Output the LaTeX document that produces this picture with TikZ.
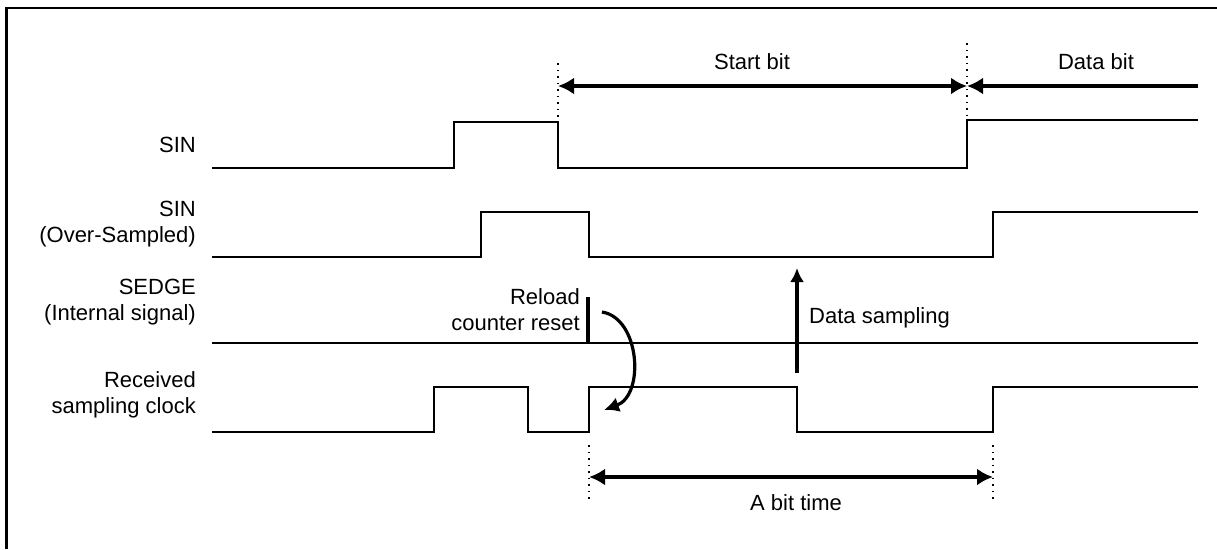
\documentclass[tikz,border=0pt]{standalone}
\usepackage{fontspec}
\setmainfont{Liberation Sans}
\usetikzlibrary{arrows.meta}
\tikzset{headtip/.tip={Latex[length=16pt,width=17pt]}}
\begin{document}
\begin{tikzpicture}[x=1pt,y=-1pt,
 sig/.style={line width=1.6pt, line join=miter},
 dim/.style={line width=3.2pt},
 guide/.style={line width=1.5pt, dash pattern=on 1.5pt off 5pt},
 lbl/.style={font=\fontsize{22}{26}\selectfont, inner sep=0pt},
 lblr/.style={lbl, align=right, anchor=east}
]
\useasboundingbox (0,0) rectangle (1217,549);
\fill[white] (0,0) rectangle (1217,549);
\draw[line width=2.5pt] (6.5,549) -- (6.5,8) -- (1217,8);

% signal labels
\node[lblr] (sin) at (196,145) {SIN};
\node[lblr] (sino) at (196,224) {SIN\\(Over-Sampled)};
\node[lblr] (sedge) at (196,302) {SEDGE\\(Internal signal)};
\node[lblr] (rclk) at (196,395) {Received\\sampling clock};

% waveforms
\draw[sig] (212,168) -- (454,168) -- (454,122) -- (558,122) -- (558,168) -- (967,168) -- (967,120) -- (1198,120);
\draw[sig] (212,257) -- (481,257) -- (481,212) -- (589,212) -- (589,257) -- (993,257) -- (993,212) -- (1198,212);
\draw[sig] (212,343) -- (1198,343);
\draw[sig] (212,432) -- (434,432) -- (434,387) -- (528,387) -- (528,432) -- (589,432) -- (589,387) -- (797,387) -- (797,432) -- (993,432) -- (993,387) -- (1198,387);

% top dimension
\coordinate (sbL) at (558,86);
\coordinate (sbR) at (967,86);
\coordinate (dbR) at (1198,86);
\coordinate (g1t) at (558,63);
\coordinate (g1b) at (558,122);
\coordinate (g2t) at (967,43);
\coordinate (g2b) at (967,120);
\draw[guide] (g1t) -- (g1b);
\draw[guide] (g2t) -- (g2b);
\draw[dim, headtip-headtip] (sbL) -- (sbR);
\draw[dim, -headtip] (dbR) -- (sbR);
\node[lbl] (startbit) at (752,62) {Start bit};
\node[lbl] (databit) at (1096,62) {Data bit};

% bottom dimension
\coordinate (btL) at (589,477);
\coordinate (btR) at (993,477);
\coordinate (g3t) at (589,445);
\coordinate (g3b) at (589,503);
\coordinate (g4t) at (993,445);
\coordinate (g4b) at (993,503);
\draw[guide] (g3t) -- (g3b);
\draw[guide] (g4t) -- (g4b);
\draw[dim, headtip-headtip] (btL) -- (btR);
\node[lbl] (abit) at (796,503) {A bit time};

% reload counter reset
\coordinate (barT) at (588,297);
\coordinate (barB) at (588,343);
\draw[line width=4pt] (barT) -- (barB);
\node[lbl, align=right, anchor=east] (reload) at (580,310) {Reload\\counter reset};
\coordinate (cs) at (602,312);
\coordinate (ce) at (604,410);
\draw[dim, -{Latex[length=15pt,width=15pt]}] (cs) .. controls (640,318) and (645,395) .. (ce);

% data sampling
\coordinate (dsB) at (797,373);
\coordinate (dsT) at (797,268);
\draw[dim, -{Latex[length=14pt,width=14pt]}] (dsB) -- (dsT);
\node[lbl, anchor=west] (dsamp) at (809,318) {Data sampling};
\end{tikzpicture}
\end{document}
